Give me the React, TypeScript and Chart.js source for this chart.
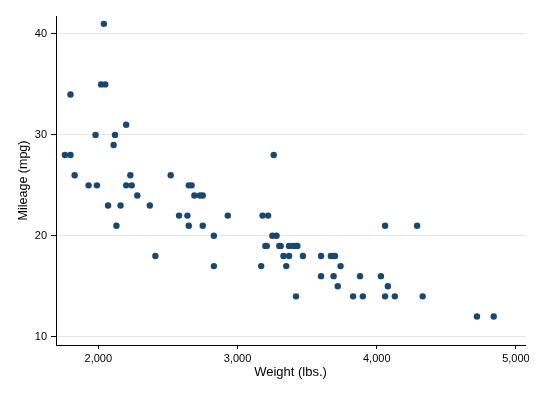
import React, { useEffect, useRef } from "react";
import { Chart, registerables } from "chart.js";

Chart.register(...registerables);

// Stata auto dataset: weight (lbs.) and mileage (mpg)
const weight = [
  2930, 3350, 2640, 3250, 4080, 3670, 2230, 3280, 3880, 3400,
  4330, 3900, 4290, 2110, 3690, 3180, 3220, 2750, 3430, 2120,
  3600, 3600, 3740, 1800, 2650, 4840, 4720, 3830, 2580, 4060,
  3720, 3370, 4130, 2830, 4060, 3310, 3300, 3690, 3370, 2730,
  4030, 3260, 1800, 2200, 2520, 3330, 3700, 3470, 3210, 3200,
  3420, 2690, 2830, 2070, 2650, 2370, 2020, 2280, 2750, 2130,
  2240, 1760, 1980, 3420, 1830, 2050, 2410, 2200, 2670, 2160,
  2040, 1930, 1990, 3170,
];
const mpg = [
  22, 17, 22, 20, 15, 18, 26, 20, 16, 19,
  14, 14, 21, 29, 16, 22, 22, 24, 19, 30,
  18, 16, 17, 28, 21, 12, 12, 14, 22, 14,
  15, 18, 14, 20, 21, 19, 19, 18, 19, 24,
  16, 28, 34, 25, 26, 18, 18, 18, 19, 19,
  19, 24, 17, 23, 25, 23, 35, 24, 21, 21,
  25, 28, 30, 14, 26, 35, 18, 31, 25, 23,
  41, 25, 25, 17,
];
const xTicks = [2000, 3000, 4000, 5000];
const yTicks = [10, 20, 30, 40];

const FONT = "'Liberation Sans', Arial, sans-serif";
const MARKER = "#1a476f";

export default function App() {
  const ref = useRef<HTMLCanvasElement | null>(null);
  useEffect(() => {
    document.body.style.margin = "0";
    const canvas = ref.current;
    if (!canvas) return;
    const points = weight.map((w, i) => ({ x: w, y: mpg[i] }));
    const chart = new Chart(canvas, {
      type: "scatter",
      data: {
        datasets: [
          {
            data: points,
            backgroundColor: MARKER,
            borderColor: MARKER,
            pointRadius: 3.2,
            pointBorderWidth: 0,
          },
        ],
      },
      options: {
        animation: false,
        responsive: false,
        devicePixelRatio: 1,
        layout: { padding: { left: 0, right: 16, top: 16, bottom: 0 } },
        plugins: { legend: { display: false }, tooltip: { enabled: false } },
        scales: {
          x: {
            type: "linear",
            min: 1696,
            max: 5065,
            afterBuildTicks: (s: any) => {
              s.ticks = xTicks.map((v) => ({ value: v }));
            },
            afterFit: (s: any) => {
              s.height = 52;
            },
            grid: {
              drawOnChartArea: false,
              tickLength: 4,
              tickColor: "#000",
              color: "#000",
            },
            border: { color: "#000", width: 1 },
            ticks: {
              color: "#000",
              font: { family: FONT, size: 11 },
              padding: 3,
              maxRotation: 0,
              callback: (v: any) => Number(v).toLocaleString("en-US"),
            },
            title: {
              display: true,
              text: "Weight (lbs.)",
              color: "#000",
              font: { family: FONT, size: 13 },
              padding: { top: 0, bottom: 17.2 },
            },
          },
          y: {
            type: "linear",
            min: 9.18,
            max: 41.78,
            afterBuildTicks: (s: any) => {
              s.ticks = yTicks.map((v) => ({ value: v }));
            },
            afterFit: (s: any) => {
              s.width = 56;
            },
            grid: {
              drawOnChartArea: true,
              color: "#e6e6e6",
              tickLength: 5,
              tickColor: "#000",
            },
            border: { color: "#000", width: 1 },
            ticks: {
              color: "#000",
              font: { family: FONT, size: 11 },
              padding: 4,
            },
            title: {
              display: true,
              text: "Mileage (mpg)",
              color: "#000",
              font: { family: FONT, size: 12.5 },
              padding: { top: 16.5, bottom: 0 },
            },
          },
        },
      },
    });
    return () => chart.destroy();
  }, []);
  return <canvas ref={ref} width={541} height={397} style={{ display: "block" }} />;
}
